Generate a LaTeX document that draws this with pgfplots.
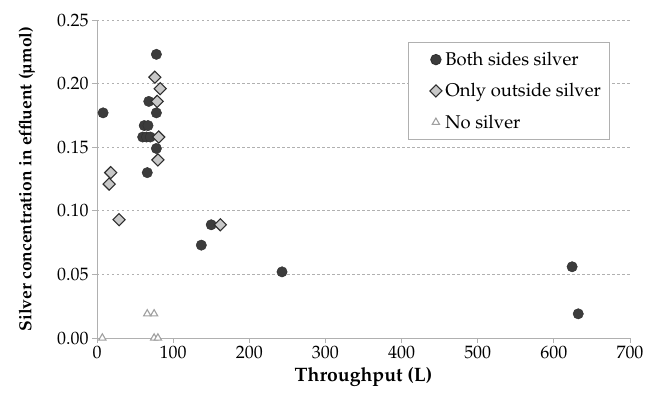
\documentclass[border=0pt]{standalone}
\usepackage[T1]{fontenc}
\usepackage{mathpazo}
\usepackage{pgfplots}
\pgfplotsset{compat=1.18}
\definecolor{dk}{HTML}{3C3C3C}
\definecolor{dkedge}{HTML}{2E2E2E}
\definecolor{lt}{HTML}{C8C8C8}
\definecolor{axc}{HTML}{B0B0B0}
\definecolor{tri}{HTML}{A0A0A0}
\begin{document}
\begin{tikzpicture}
\useasboundingbox (-97bp,-56bp) rectangle (549bp,338bp);
\begin{axis}[
  at={(0,0)}, anchor=south west,
  scale only axis, width=533bp, height=318bp,
  xmin=0, xmax=700, ymin=0, ymax=0.25,
  xtick={0,100,...,700},
  ytick={0,0.05,0.10,0.15,0.20,0.25},
  axis lines*=left,
  axis line style={axc, line width=0.9pt},
  tick style={axc, line width=0.9pt},
  tick align=outside,
  major tick length=5bp,
  ymajorgrids,
  grid style={axc, dash pattern=on 2.5bp off 2.5bp, line width=0.8pt},
  /pgf/number format/assume math mode=true,
  yticklabel style={/pgf/number format/fixed, /pgf/number format/fixed zerofill, /pgf/number format/precision=2},
  ticklabel style={font=\fontsize{18}{21}\selectfont},
  xlabel={\textbf{Throughput (L)}},
  ylabel={\textbf{Silver concentration in effluent (\textmu mol)}},
  xlabel style={font=\fontsize{19.5}{22}\selectfont, yshift=-1bp},
  ylabel style={font=\fontsize{17.5}{20}\selectfont, yshift=15bp},
  legend style={at={(0.5835,0.93)}, anchor=north west, draw=axc, line width=0.9pt,
    font=\fontsize{18.5}{21}\selectfont, row sep=16.5bp, inner xsep=6bp, inner ysep=9.5bp,
    nodes={inner xsep=3bp, inner ysep=0bp}},
  legend cell align=left,
  legend image code/.code={\path (0bp,0bp) (27bp,0bp); \draw[#1] plot coordinates {(21bp,0bp)};},
]
\addplot[only marks, mark=*, mark size=5.2bp, mark options={fill=dk, draw=dkedge}] coordinates {
(8,0.177) (78,0.223) (68,0.186) (78,0.177) (62,0.167) (67,0.167)
(60,0.158) (65,0.158) (70,0.158) (78,0.149) (66,0.130)
(150,0.089) (137,0.073) (243,0.052) (624,0.056) (632,0.019)
};
\addlegendentry{Both sides silver}
\addplot[only marks, mark=square*, mark size=4.3bp, mark options={rotate=45, fill=lt, draw=dkedge, line width=1.1pt}] coordinates {
(76,0.205) (83,0.196) (79,0.186) (81,0.158) (80,0.140)
(18,0.130) (16,0.121) (29,0.093) (162,0.089)
};
\addlegendentry{Only outside silver}
\addplot[only marks, mark=triangle*, mark size=4.2bp, mark options={fill=white, draw=tri, line width=1.1pt}] coordinates {
(7,0) (66,0.019) (75,0.019) (75,0) (80,0)
};
\addlegendentry{No silver}
\end{axis}
\end{tikzpicture}
\end{document}
